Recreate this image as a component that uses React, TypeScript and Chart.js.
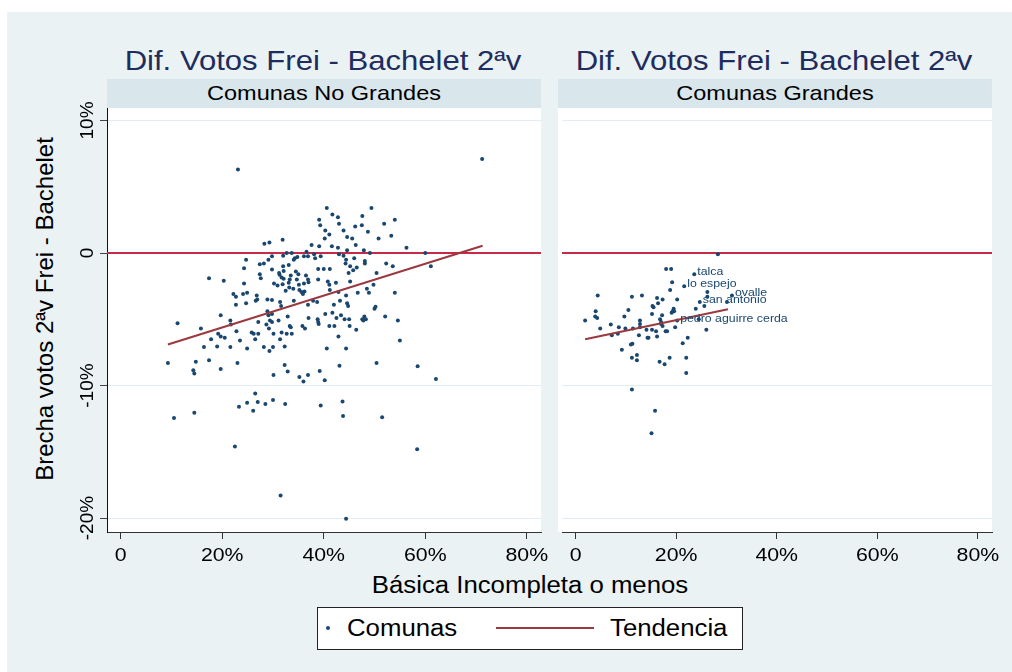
import React, { useEffect, useRef } from "react";
import { Chart, registerables } from "chart.js";

Chart.register(...registerables);

// ---------- data ----------
const xTicks = [0, 20, 40, 60, 80];
const xTickLabels = ["0", "20%", "40%", "60%", "80%"];
const yTicks = [-20, -10, 0, 10];
const yTickLabels = ["-20%", "-10%", "0", "10%"];
const X_MIN = -2.7;
const X_MAX = 82.8;
const Y_MIN = -21.05;
const Y_MAX = 10.94;

const panelTitles = ["Comunas No Grandes", "Comunas Grandes"];
const chartTitle = "Dif. Votos Frei - Bachelet 2ªv";
const xTitle = "Básica Incompleta o menos";
const yTitle = "Brecha votos 2ªv Frei - Bachelet";
const legendLabels = ["Comunas", "Tendencia"];

// Comunas No Grandes (x = básica incompleta %, y = brecha %)
const smallX = [
  23.1, 71.2, 40.6, 49.4, 41.7, 42.8, 47.6, 39.1, 39.3, 43.0, 46.2, 47.5, 51.9, 54.0, 40.3, 43.9, 48.7, 41.1, 44.6, 45.6,
  40.2, 50.8, 53.3, 31.9, 28.3, 29.3, 37.6, 39.1, 41.6, 46.3, 56.3, 60.0, 61.1, 42.8, 44.6, 47.9, 49.1, 32.7, 33.7, 36.6,
  32.0, 29.8, 34.3, 34.8, 34.1, 36.1, 36.9, 38.1, 38.3, 39.4, 43.0, 43.9, 44.4, 46.0, 48.1, 48.1, 44.3, 45.2, 46.5, 45.8,
  44.9, 52.3, 53.6, 50.4, 24.7, 27.4, 28.2, 29.1, 24.3, 29.8, 32.0, 33.1, 32.1, 31.2, 31.3, 31.7, 32.1, 27.4, 27.6, 33.5,
  33.3, 34.5, 35.0, 34.7, 33.1, 35.1, 36.5, 36.9, 37.0, 36.1, 38.9, 40.0, 41.2, 38.9, 30.2, 30.9, 31.9, 33.2, 34.0, 35.2,
  35.6, 35.9, 36.2, 32.5, 40.8, 41.1, 42.4, 45.2, 41.2, 42.9, 44.4, 46.7, 48.5, 48.9, 49.8, 54.0, 17.4, 20.3, 24.3, 22.2,
  22.7, 24.1, 24.9, 22.7, 24.7, 26.8, 26.9, 26.6, 28.9, 29.8, 31.4, 31.6, 34.1, 37.9, 38.7, 36.9, 42.0, 43.2, 44.6, 44.8,
  50.2, 50.0, 19.7, 21.6, 21.7, 22.8, 11.2, 15.8, 17.8, 19.2, 19.7, 20.5, 23.5, 25.8, 26.2, 27.1, 26.5, 27.1, 28.7, 28.9,
  29.1, 29.8, 29.4, 29.8, 29.2, 30.1, 31.1, 31.4, 31.7, 32.7, 33.7, 32.9, 33.3, 33.5, 35.8, 36.3, 37.0, 38.8, 38.9, 39.0,
  40.3, 41.1, 41.7, 42.1, 42.5, 43.4, 44.1, 45.0, 45.1, 46.4, 42.9, 47.6, 48.0, 48.3, 47.8, 52.1, 54.6, 55.0, 16.4, 19.0,
  21.6, 24.9, 30.0, 32.3, 40.6, 44.4, 29.3, 28.2, 9.3, 14.8, 14.3, 14.5, 17.4, 19.7, 23.0, 30.1, 32.3, 32.9, 35.2, 36.0,
  36.9, 39.2, 40.2, 43.1, 50.4, 58.5, 62.1, 10.5, 14.5, 23.3, 24.9, 26.5, 27.0, 26.1, 28.5, 30.0, 32.4, 39.4, 43.7, 43.8,
  51.5, 22.5, 58.4, 31.5, 44.4,
];
const smallY = [
  6.3, 7.1, 3.4, 3.4, 2.9, 2.7, 2.8, 2.5, 2.1, 2.2, 2.0, 2.1, 2.2, 2.5, 1.7, 1.7, 1.6, 1.4, 1.2, 1.1,
  1.1, 1.1, 1.3, 1.0, 0.7, 0.8, 0.6, 0.5, 0.5, 0.6, 0.4, 0.0, -1.0, 0.4, 0.2, 0.2, 0.0, 0.0, 0.0, 0.1,
  -0.2, -0.25, -0.4, -0.3, -0.5, -0.25, -0.25, -0.1, -0.4, -0.25, -0.1, -0.2, -0.5, -0.4, -0.6, -0.8, -0.8, -1.0, -1.1, -1.3,
  -1.5, -0.8, -1.0, -1.5, -0.5, -0.85, -0.8, -0.5, -1.15, -1.25, -1.0, -0.9, -1.35, -1.5, -1.65, -1.85, -1.95, -1.6, -1.9, -1.7,
  -2.0, -1.4, -1.6, -2.0, -2.25, -2.4, -1.7, -2.0, -2.2, -2.3, -1.2, -1.2, -1.2, -2.0, -2.3, -2.45, -2.35, -2.6, -2.7, -2.8,
  -2.95, -3.1, -2.9, -2.85, -2.15, -2.4, -2.25, -2.15, -2.8, -2.95, -3.2, -3.0, -2.7, -3.0, -2.4, -3.0, -1.9, -2.1, -2.3, -3.1,
  -3.3, -3.1, -3.0, -3.9, -3.8, -3.2, -3.5, -3.6, -3.5, -3.55, -3.7, -4.0, -3.6, -3.6, -3.7, -3.9, -3.9, -3.6, -3.8, -4.0,
  -4.05, -4.2, -4.7, -5.1, -5.4, -5.9, -5.3, -5.7, -6.5, -6.1, -6.3, -6.4, -6.6, -6.0, -6.1, -6.1, -6.5, -5.2, -5.4, -4.4,
  -4.7, -4.6, -5.1, -5.2, -5.7, -6.1, -5.1, -6.5, -6.0, -6.1, -6.1, -4.8, -5.5, -5.6, -5.5, -5.7, -4.9, -5.0, -5.2, -5.35,
  -4.6, -5.5, -4.5, -5.5, -4.9, -4.7, -5.0, -5.0, -5.5, -5.8, -6.3, -5.0, -4.8, -5.0, -5.1, -4.8, -5.1, -6.6, -7.1, -7.05,
  -7.1, -7.2, -7.1, -7.05, -7.2, -7.2, -7.4, -7.1, -8.3, -8.2, -8.85, -9.1, -8.1, -8.75, -8.3, -9.2, -8.45, -8.95, -9.35, -9.7,
  -9.2, -8.9, -9.6, -8.5, -8.3, -8.55, -9.5, -12.45, -12.05, -11.6, -11.3, -10.6, -11.25, -11.9, -11.4, -11.1, -11.4, -11.5, -11.2, -12.3,
  -12.4, -14.6, -14.8, -18.3, -20.05,
];

// Comunas Grandes
const bigX = [
  28.3, 18.0, 19.0, 19.2, 18.8, 26.2, 4.4, 11.2, 13.2, 16.2, 17.3, 20.2, 16.4, 15.3, 26.2, 30.1, 1.9, 4.0, 3.9, 4.3,
  4.9, 7.0, 7.2, 8.4, 8.6, 9.7, 10.5, 9.9, 11.4, 9.2, 11.0, 11.3, 11.2, 12.2, 12.2, 12.6, 12.8, 12.8, 12.8, 14.1,
  14.3, 14.5, 15.2, 16.0, 15.2, 15.5, 16.2, 16.8, 17.0, 17.0, 17.2, 17.3, 16.7, 17.7, 18.7, 17.9, 18.2, 19.1, 19.3, 19.5,
  19.6, 19.8, 21.3, 22.3, 22.0, 22.0, 23.9, 24.5, 25.6, 26.0, 11.2, 15.8, 15.1,
];
const bigY = [
  -0.1, -1.2, -1.2, -2.2, -2.8, -2.95, -3.2, -3.3, -3.2, -3.4, -3.5, -3.5, -3.8, -4.0, -3.3, -3.7, -5.1, -4.4, -4.8, -4.9,
  -5.7, -5.4, -6.2, -6.1, -5.6, -4.8, -4.3, -5.7, -5.7, -7.3, -6.9, -6.85, -7.9, -7.7, -8.1, -6.2, -5.1, -5.35, -5.6, -5.8,
  -6.4, -6.4, -5.8, -5.9, -4.6, -4.1, -6.3, -5.0, -5.2, -5.35, -4.7, -5.5, -8.2, -8.4, -7.9, -5.9, -5.9, -4.5, -4.4, -4.2,
  -4.4, -5.6, -6.8, -6.4, -7.9, -9.05, -4.2, -5.0, -4.0, -5.8, -10.3, -11.9, -13.6,
];
const bigLabelNames = ["talca", "lo espejo", "ovalle", "san antonio", "pedro aguirre cerda"];
const bigLabelX = [23.6, 21.6, 31.1, 24.7, 20.2];
const bigLabelY = [-1.6, -2.5, -3.2, -3.7, -5.1];

// fitted trend lines (endpoints)
const trendSmallX = [9.3, 71.3];
const trendSmallY = [-6.9, 0.55];
const trendBigX = [1.9, 30.3];
const trendBigY = [-6.5, -4.25];
const refLineY = 0;

// ---------- style ----------
const FONT = '"Liberation Sans", Arial, Helvetica, sans-serif';
const BG = "#EAF2F3";
const HEADER = "#D9E6EB";
const NAVY = "#1A476F";
const TREND = "#9A3A40";
const RED = "#C62A47";
const TITLE = "#1F2C5E";
const GRID = "#E3ECF0";
const SX = 1.12;
const PAD_TOP = 13;
const PAD_RIGHT = 15;

const zip = (xs: number[], ys: number[]) => xs.map((x, i) => ({ x, y: ys[i] }));

const tickLabelPlugin = {
  id: "tickLabels",
  afterDraw(chart: any, _args: any, opts: any) {
    const ctx = chart.ctx;
    const xs = chart.scales.x;
    const ys = chart.scales.y;
    const area = chart.chartArea;
    ctx.save();
    ctx.fillStyle = "#000";
    ctx.font = `19px ${FONT}`;
    ctx.textAlign = "center";
    ctx.textBaseline = "alphabetic";
    xTicks.forEach((v, i) => {
      const px = xs.getPixelForValue(v);
      ctx.save();
      ctx.translate(px, area.bottom + 29);
      ctx.scale(SX, 1);
      ctx.fillText(xTickLabels[i], 0, 0);
      ctx.restore();
    });
    if (opts && opts.showY) {
      yTicks.forEach((v, i) => {
        const py = ys.getPixelForValue(v);
        ctx.save();
        ctx.translate(area.left - 14, py);
        ctx.rotate(-Math.PI / 2);
        ctx.fillText(yTickLabels[i], 0, 0);
        ctx.restore();
      });
    }
    ctx.restore();
  },
};

const pointLabelPlugin = {
  id: "pointLabels",
  afterDatasetsDraw(chart: any, _args: any, opts: any) {
    if (!opts || !opts.names) return;
    const ctx = chart.ctx;
    const xs = chart.scales.x;
    const ys = chart.scales.y;
    ctx.save();
    ctx.fillStyle = NAVY;
    ctx.font = `11px ${FONT}`;
    ctx.textAlign = "left";
    ctx.textBaseline = "middle";
    opts.names.forEach((name: string, i: number) => {
      const px = xs.getPixelForValue(opts.xs[i]);
      const py = ys.getPixelForValue(opts.ys[i]);
      ctx.save();
      ctx.translate(px + 3, py - 2);
      ctx.scale(SX, 1);
      ctx.fillText(name, 0, 0);
      ctx.restore();
    });
    ctx.restore();
  },
};

function buildConfig(
  points: { x: number; y: number }[],
  trend: { x: number; y: number }[],
  showY: boolean,
  labels: any
): any {
  const pointStyle = {
    pointRadius: 2,
    pointBackgroundColor: NAVY,
    pointBorderWidth: 0,
    backgroundColor: NAVY,
    borderColor: NAVY,
  };
  const datasets: any[] = [
    { data: trend, showLine: true, borderColor: TREND, borderWidth: 2, pointRadius: 0, fill: false },
    { data: points, ...pointStyle },
  ];
  if (labels) {
    datasets.push({ data: zip(labels.xs, labels.ys), ...pointStyle });
  }
  datasets.push({
    data: [
      { x: X_MIN, y: refLineY },
      { x: X_MAX, y: refLineY },
    ],
    showLine: true,
    borderColor: RED,
    borderWidth: 2,
    pointRadius: 0,
    fill: false,
  });
  return {
    type: "scatter",
    data: { datasets },
    options: {
      responsive: false,
      animation: false,
      events: [],
      layout: { padding: { left: 0, right: PAD_RIGHT, top: PAD_TOP, bottom: 0 } },
      plugins: {
        legend: { display: false },
        tooltip: { enabled: false },
        tickLabels: { showY },
        pointLabels: labels || {},
      },
      scales: {
        x: {
          type: "linear",
          position: "bottom",
          min: X_MIN,
          max: X_MAX,
          afterBuildTicks: (s: any) => {
            s.ticks = xTicks.map((v) => ({ value: v }));
          },
          afterFit: (s: any) => {
            s.height = 40;
          },
          ticks: { display: false },
          grid: { drawOnChartArea: false, drawTicks: true, tickLength: 7, tickColor: "#333", color: "#333" },
          border: { display: true, color: "#333", width: 1 },
        },
        y: {
          type: "linear",
          position: "left",
          min: Y_MIN,
          max: Y_MAX,
          afterBuildTicks: (s: any) => {
            s.ticks = yTicks.map((v) => ({ value: v }));
          },
          afterFit: (s: any) => {
            s.width = showY ? 47 : 0;
          },
          ticks: { display: false },
          grid: {
            drawOnChartArea: true,
            drawTicks: showY,
            tickLength: 7,
            tickColor: "#444",
            color: GRID,
            lineWidth: 1,
          },
          border: { display: showY, color: "#111", width: 1 },
        },
      },
    },
    plugins: [tickLabelPlugin, pointLabelPlugin],
  };
}

function HText(props: { cx: number; base: number; size: number; color?: string; text: string; sx?: number }) {
  const { cx, base, size, color = "#000", text, sx = SX } = props;
  return (
    <div
      style={{
        position: "absolute",
        left: cx,
        top: base - 0.8465 * size,
        fontSize: size,
        lineHeight: `${size}px`,
        whiteSpace: "nowrap",
        color,
        transform: `translateX(-50%) scaleX(${sx})`,
      }}
    >
      {text}
    </div>
  );
}

function LText(props: { left: number; base: number; size: number; text: string }) {
  const { left, base, size, text } = props;
  return (
    <div
      style={{
        position: "absolute",
        left,
        top: base - 0.8465 * size,
        fontSize: size,
        lineHeight: `${size}px`,
        whiteSpace: "nowrap",
        color: "#000",
        transformOrigin: "0 50%",
        transform: `scaleX(${SX})`,
      }}
    >
      {text}
    </div>
  );
}

export default function App() {
  const leftRef = useRef<HTMLCanvasElement>(null);
  const rightRef = useRef<HTMLCanvasElement>(null);

  useEffect(() => {
    const c1 = new Chart(
      leftRef.current as HTMLCanvasElement,
      buildConfig(zip(smallX, smallY), zip(trendSmallX, trendSmallY), true, null)
    );
    const c2 = new Chart(
      rightRef.current as HTMLCanvasElement,
      buildConfig(zip(bigX, bigY), zip(trendBigX, trendBigY), false, {
        names: bigLabelNames,
        xs: bigLabelX,
        ys: bigLabelY,
      })
    );
    return () => {
      c1.destroy();
      c2.destroy();
    };
  }, []);

  const panels = [
    { left: 107, width: 434 },
    { left: 558, width: 434 },
  ];
  const canvasTop = 108 - PAD_TOP;
  const canvasH = PAD_TOP + 424 + 40;

  return (
    <div
      style={{
        position: "fixed",
        left: 0,
        top: 0,
        width: 1012,
        height: 672,
        overflow: "hidden",
        background: "#fff",
        fontFamily: FONT,
      }}
    >
      <div style={{ position: "absolute", left: 7, top: 12, width: 1005, height: 660, background: BG }} />
      {panels.map((p, i) => (
        <React.Fragment key={i}>
          <div style={{ position: "absolute", left: p.left, top: 79, width: p.width, height: 29, background: HEADER }} />
          <div style={{ position: "absolute", left: p.left, top: 108, width: p.width, height: 424, background: "#fff" }} />
          <HText cx={p.left + p.width / 2 - 1} base={70.5} size={28} sx={1.11} color={TITLE} text={chartTitle} />
          <HText cx={p.left + p.width / 2} base={100} size={21} text={panelTitles[i]} />
        </React.Fragment>
      ))}
      <canvas
        ref={leftRef}
        width={47 + 434 + PAD_RIGHT}
        height={canvasH}
        style={{ position: "absolute", left: 60, top: canvasTop, display: "block" }}
      />
      <canvas
        ref={rightRef}
        width={434 + PAD_RIGHT}
        height={canvasH}
        style={{ position: "absolute", left: 558, top: canvasTop, display: "block" }}
      />

      <HText cx={530} base={593} size={23} text={xTitle} />
      <div
        style={{
          position: "absolute",
          left: 45.3,
          top: 309,
          fontSize: 24,
          lineHeight: "24px",
          whiteSpace: "nowrap",
          color: "#000",
          transform: "translate(-50%, -50%) rotate(-90deg)",
        }}
      >
        {yTitle}
      </div>

      <div
        style={{
          position: "absolute",
          left: 317,
          top: 607,
          width: 426,
          height: 43,
          boxSizing: "border-box",
          border: "1px solid #222",
          background: "#fff",
        }}
      />
      <div
        style={{ position: "absolute", left: 326.3, top: 625.7, width: 4, height: 4, borderRadius: 2, background: NAVY }}
      />
      <LText left={346.7} base={636.7} size={23} text={legendLabels[0]} />
      <div style={{ position: "absolute", left: 496, top: 627, width: 98, height: 2, background: TREND }} />
      <LText left={610} base={636.7} size={23} text={legendLabels[1]} />
    </div>
  );
}
